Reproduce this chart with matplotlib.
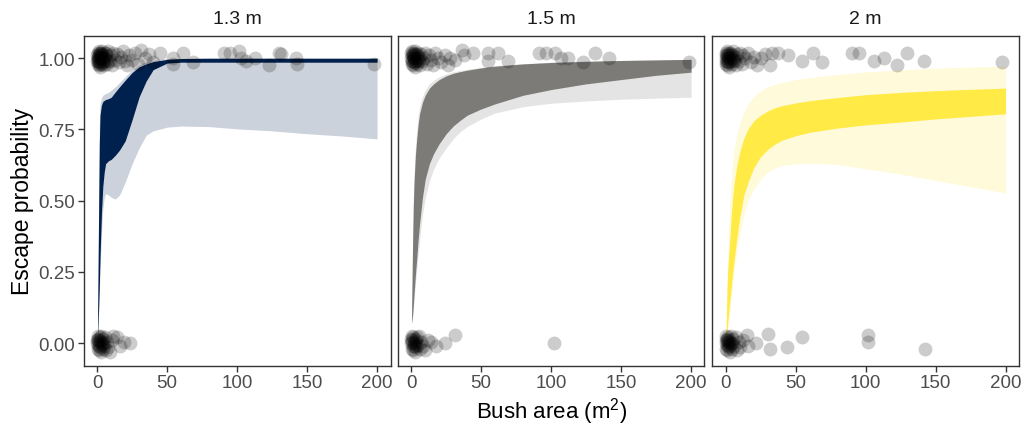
import matplotlib
matplotlib.use("Agg")
import matplotlib.pyplot as plt

plt.rcParams['font.family'] = ['Liberation Sans', 'DejaVu Sans']
plt.rcParams['mathtext.fontset'] = 'custom'
plt.rcParams['mathtext.rm'] = 'Liberation Sans'

# ---------------- data ----------------
panels = ["1.3 m", "1.5 m", "2 m"]
colors = ["#00204D", "#7C7B78", "#FFEA46"]

band_x = [0.2, 1, 1.5, 2, 3, 4, 5, 6, 8, 10, 13, 16, 20, 25, 30, 35, 40, 50, 60, 80, 100, 125, 150, 175, 200]

# panel 1.3 m
p1_inner_hi = [0.05, 0.45, 0.70, 0.80, 0.835, 0.848, 0.852, 0.855, 0.858, 0.863, 0.882, 0.90, 0.923, 0.95, 0.97, 0.98, 0.988, 0.996, 0.999, 1.0, 1.0, 1.0, 1.0, 1.0, 1.0]
p1_inner_lo = [0.02, 0.12, 0.20, 0.30, 0.45, 0.55, 0.60, 0.63, 0.64, 0.645, 0.66, 0.678, 0.71, 0.785, 0.865, 0.92, 0.96, 0.983, 0.986, 0.986, 0.986, 0.986, 0.986, 0.986, 0.986]
p1_outer_hi = [0.06, 0.50, 0.76, 0.84, 0.86, 0.87, 0.873, 0.876, 0.88, 0.888, 0.90, 0.915, 0.935, 0.96, 0.978, 0.988, 0.993, 0.998, 0.999, 1.0, 1.0, 1.0, 1.0, 1.0, 1.0]
p1_outer_lo = [0.02, 0.10, 0.17, 0.25, 0.38, 0.47, 0.51, 0.525, 0.52, 0.512, 0.506, 0.52, 0.565, 0.63, 0.685, 0.73, 0.745, 0.758, 0.762, 0.76, 0.752, 0.745, 0.735, 0.727, 0.717]

# panel 1.5 m
p2_inner_hi = [0.085, 0.35, 0.48, 0.56, 0.66, 0.72, 0.77, 0.805, 0.845, 0.87, 0.895, 0.91, 0.925, 0.938, 0.947, 0.953, 0.958, 0.966, 0.972, 0.98, 0.985, 0.989, 0.992, 0.994, 0.996]
p2_inner_lo = [0.07, 0.10, 0.13, 0.17, 0.24, 0.30, 0.366, 0.42, 0.51, 0.575, 0.63, 0.665, 0.70, 0.735, 0.762, 0.782, 0.80, 0.822, 0.84, 0.87, 0.89, 0.91, 0.925, 0.94, 0.951]
p2_outer_hi = [0.09, 0.37, 0.51, 0.59, 0.69, 0.75, 0.80, 0.83, 0.865, 0.888, 0.91, 0.922, 0.935, 0.945, 0.952, 0.957, 0.961, 0.968, 0.974, 0.981, 0.986, 0.99, 0.992, 0.994, 0.996]
p2_outer_lo = [0.065, 0.09, 0.12, 0.15, 0.21, 0.26, 0.31, 0.36, 0.45, 0.51, 0.57, 0.61, 0.65, 0.685, 0.717, 0.742, 0.76, 0.787, 0.808, 0.83, 0.842, 0.85, 0.856, 0.86, 0.863]

# panel 2 m
p3_inner_hi = [0.035, 0.20, 0.26, 0.30, 0.37, 0.45, 0.51, 0.56, 0.625, 0.67, 0.72, 0.752, 0.78, 0.80, 0.815, 0.826, 0.833, 0.843, 0.851, 0.862, 0.872, 0.88, 0.886, 0.891, 0.895]
p3_inner_lo = [0.02, 0.05, 0.075, 0.10, 0.15, 0.20, 0.249, 0.29, 0.37, 0.44, 0.52, 0.565, 0.615, 0.655, 0.68, 0.698, 0.712, 0.728, 0.74, 0.755, 0.766, 0.776, 0.787, 0.796, 0.805]
p3_outer_hi = [0.04, 0.22, 0.30, 0.38, 0.50, 0.58, 0.64, 0.68, 0.735, 0.77, 0.81, 0.84, 0.865, 0.885, 0.90, 0.908, 0.915, 0.925, 0.932, 0.943, 0.952, 0.959, 0.965, 0.969, 0.972]
p3_outer_lo = [0.015, 0.03, 0.05, 0.07, 0.11, 0.16, 0.20, 0.25, 0.32, 0.38, 0.45, 0.50, 0.54, 0.575, 0.60, 0.615, 0.623, 0.63, 0.632, 0.627, 0.612, 0.593, 0.571, 0.549, 0.527]

# observed points (bush area, escaped 0/1 with jitter)
p1_pts_x = [0.1, 0.2, 0.4, 0.5, 0.6, 0.8, 1.0, 1.1, 1.2, 1.5, 1.7, 1.8, 2.0, 2.3, 2.6, 2.8, 3.0, 3.3, 3.7, 4.0, 4.5, 5.0, 5.5, 6.0, 6.6, 7.2, 8.0, 8.8, 9.5, 10.3,
            0.3, 0.9, 1.4, 2.1, 2.9, 3.6, 4.4, 5.2, 6.3, 7.5,
            11.5, 12.5, 14, 15.5, 17, 18.5, 20, 21.5, 23, 25, 27, 29, 31, 34, 37, 40,
            45, 54.5, 54.5, 61.5, 68.7, 90.3, 95, 101, 102.5, 106, 113, 122.5, 130, 131, 142, 143, 198,
            0.1, 0.3, 0.5, 0.7, 0.9, 1.1, 1.4, 1.7, 2.0, 2.3, 2.7, 3.0, 3.4, 3.8, 4.3, 4.8, 5.5, 6.2, 7.0, 8.0, 9.0, 10.5, 11.5, 13.9, 16, 19, 23.5,
            0.2, 0.8, 1.5, 2.5, 3.5, 4.5]
p1_pts_y = [0.99, 1.01, 0.98, 1.02, 1.0, 0.995, 1.025, 0.985, 0.975, 1.005, 1.02, 0.985, 1.02, 0.97, 1.0, 1.01, 1.015, 0.98, 1.025, 0.99, 1.005, 0.975, 1.02, 0.995, 1.01, 0.98, 1.025, 0.99, 1.01, 0.975,
            1.005, 0.99, 1.01, 0.98, 1.0, 1.015, 0.985, 1.0, 1.02, 0.99,
            1.02, 0.995, 1.015, 0.985, 1.005, 1.025, 0.99, 0.975, 1.01, 0.995, 1.02, 0.98, 1.03, 1.0, 1.015, 0.985,
            1.02, 1.0, 0.98, 1.02, 0.985, 1.02, 1.02, 1.025, 1.0, 0.99, 1.0, 0.975, 1.02, 1.015, 1.0, 0.98, 0.98,
            0.01, -0.02, 0.025, -0.005, 0.015, -0.025, 0.005, 0.02, -0.015, 0.01, -0.03, 0.025, 0.0, -0.02, 0.015, -0.01, 0.02, -0.025, 0.005, -0.015, -0.03, 0.01, 0.025, 0.02, -0.01, 0.005, 0.0,
            0.0, 0.01, -0.01, 0.005, -0.005, 0.0]

p2_pts_x = [0.1, 0.2, 0.3, 0.5, 0.7, 0.9, 1.0, 1.2, 1.5, 1.8, 2.0, 2.3, 2.6, 3.0, 3.4, 3.8, 4.2, 4.7, 5.2, 5.8, 6.5, 7.3, 8.0, 9.0, 10, 11, 12.5, 14, 15.5, 17, 19, 21, 24, 26, 28, 31, 36, 38, 44,
            0.4, 1.1, 1.9, 2.8, 3.6, 4.5, 5.5,
            55, 55, 62, 69, 91, 96, 103, 107, 112, 123, 131, 141, 198.6,
            0.1, 0.3, 0.5, 0.7, 1.0, 1.3, 1.6, 2.0, 2.4, 2.8, 3.2, 3.7, 4.2, 4.8, 5.5, 6.3, 7.2, 8.2, 10, 12, 14, 18, 24, 31, 102,
            0.2, 0.9, 1.8, 2.6, 3.5]
p2_pts_y = [1.0, 1.02, 0.98, 1.01, 0.99, 1.025, 0.975, 1.005, 1.02, 0.985, 1.0, 1.015, 0.97, 1.025, 0.99, 1.01, 0.98, 1.02, 0.995, 1.005, 0.975, 1.015, 0.99, 1.0, 1.02, 0.98, 1.01, 0.995, 0.975, 1.02, 1.0, 0.985, 1.01, 0.975, 1.0, 0.995, 1.03, 1.01, 1.02,
            0.99, 1.01, 1.0, 0.985, 1.015, 1.0, 0.99,
            1.02, 0.99, 1.02, 0.99, 1.02, 1.02, 1.02, 1.0, 1.0, 0.985, 1.02, 1.0, 0.985,
            0.015, -0.02, 0.005, 0.025, -0.01, 0.02, -0.025, 0.0, 0.015, -0.03, 0.01, -0.015, 0.02, -0.005, 0.025, -0.02, 0.005, -0.01, -0.025, 0.01, 0.005, -0.01, 0.0, 0.03, 0.0,
            0.0, 0.01, -0.01, 0.005, -0.005]

p3_pts_x = [0.1, 0.2, 0.4, 0.5, 0.7, 0.9, 1.1, 1.3, 1.6, 1.9, 2.2, 2.5, 2.9, 3.3, 3.7, 4.2, 4.7, 5.3, 6.0, 6.7, 7.5, 8.3, 9.2, 10.2, 11.3, 12.5, 14, 16, 18, 20, 22.5, 25.5, 28, 31.5, 33, 37.5, 44.6,
            0.3, 1.0, 1.8, 2.7, 3.5, 4.4, 5.6,
            54.3, 62.6, 68.6, 90, 95, 105.7, 112.8, 122.5, 129.6, 141.6, 197.8,
            0.1, 0.3, 0.5, 0.7, 0.9, 1.2, 1.5, 1.8, 2.2, 2.6, 3.0, 3.5, 4.0, 4.6, 5.3, 6.0, 7.0, 8.0, 9.2, 10.5, 12, 15, 16, 22, 30.3, 31.5, 43.5, 54.3, 102, 102, 142.7,
            0.2, 1.0, 1.7, 2.5, 3.4, 4.3]
p3_pts_y = [1.0, 1.02, 0.98, 1.01, 0.99, 1.025, 0.975, 1.005, 1.02, 0.985, 1.01, 0.97, 1.0, 1.02, 0.99, 1.01, 0.98, 1.025, 0.995, 1.005, 0.975, 1.015, 0.99, 1.02, 0.98, 1.01, 1.0, 1.02, 0.985, 1.005, 0.975, 1.0, 1.015, 0.975, 1.02, 1.02, 1.01,
            0.99, 1.01, 1.0, 0.985, 1.015, 1.0, 0.99,
            0.99, 1.02, 0.985, 1.02, 1.02, 0.99, 1.0, 0.975, 1.02, 0.99, 0.985,
            0.01, -0.02, 0.025, -0.005, 0.015, -0.025, 0.005, 0.02, -0.015, 0.01, -0.03, 0.025, 0.0, -0.02, 0.015, -0.01, 0.02, -0.025, 0.005, -0.015, 0.01, 0.03, -0.01, 0.0, 0.033, -0.02, -0.013, 0.022, 0.027, 0.005, -0.02,
            0.0, 0.01, -0.01, 0.005, -0.005, 0.0]

inner_hi = [p1_inner_hi, p2_inner_hi, p3_inner_hi]
inner_lo = [p1_inner_lo, p2_inner_lo, p3_inner_lo]
outer_hi = [p1_outer_hi, p2_outer_hi, p3_outer_hi]
outer_lo = [p1_outer_lo, p2_outer_lo, p3_outer_lo]
pts_x = [p1_pts_x, p2_pts_x, p3_pts_x]
pts_y = [p1_pts_y, p2_pts_y, p3_pts_y]

x_ticks = [0, 50, 100, 150, 200]
y_ticks = [0.00, 0.25, 0.50, 0.75, 1.00]
y_ticklabels = ["0.00", "0.25", "0.50", "0.75", "1.00"]

# ---------------- figure ----------------
W, H = 1025, 431
fig = plt.figure(figsize=(W / 100, H / 100), dpi=100)
lefts = [83.5, 397.5, 712.0]
pw = 307.0
top_px, bot_px = 36.7, 366.7

axis_col = "#333333"
tick_col = "#4D4D4D"

for i in range(3):
    ax = fig.add_axes([lefts[i] / W, 1 - bot_px / H, pw / W, (bot_px - top_px) / H])
    ax.fill_between(band_x, outer_lo[i], outer_hi[i], color=colors[i], alpha=0.2, linewidth=0, zorder=1)
    ax.fill_between(band_x, inner_lo[i], inner_hi[i], color=colors[i], alpha=1.0, linewidth=0, zorder=2)
    ax.scatter(pts_x[i], pts_y[i], s=100, color="black", alpha=0.2, linewidths=0, zorder=3)
    ax.set_xlim(-9.8, 209.6)
    ax.set_ylim(-0.079, 1.079)
    ax.set_xticks(x_ticks)
    ax.set_xticklabels([str(v) for v in x_ticks])
    ax.set_yticks(y_ticks)
    if i == 0:
        ax.set_yticklabels(y_ticklabels)
        ax.tick_params(axis="y", length=4, width=1, color=axis_col, labelcolor=tick_col, labelsize=13.5, pad=2)
        ax.set_ylabel("Escape probability", fontsize=16.5, color="black", labelpad=3)
    else:
        ax.tick_params(axis="y", left=False, labelleft=False)
    ax.tick_params(axis="x", length=4, width=1, color=axis_col, labelcolor=tick_col, labelsize=13.5, pad=2)
    for sp in ax.spines.values():
        sp.set_color(axis_col)
        sp.set_linewidth(1.0)
    ax.set_title(panels[i], fontsize=14, color="#1A1A1A", pad=9)

fig.text((lefts[0] + lefts[2] + pw) / 2 / W, 1 - 412 / H, r"Bush area (m$^{\mathregular{2}}$)",
         ha="center", va="center", fontsize=16, color="black")

fig.savefig("out.png", dpi=100, facecolor="white")
